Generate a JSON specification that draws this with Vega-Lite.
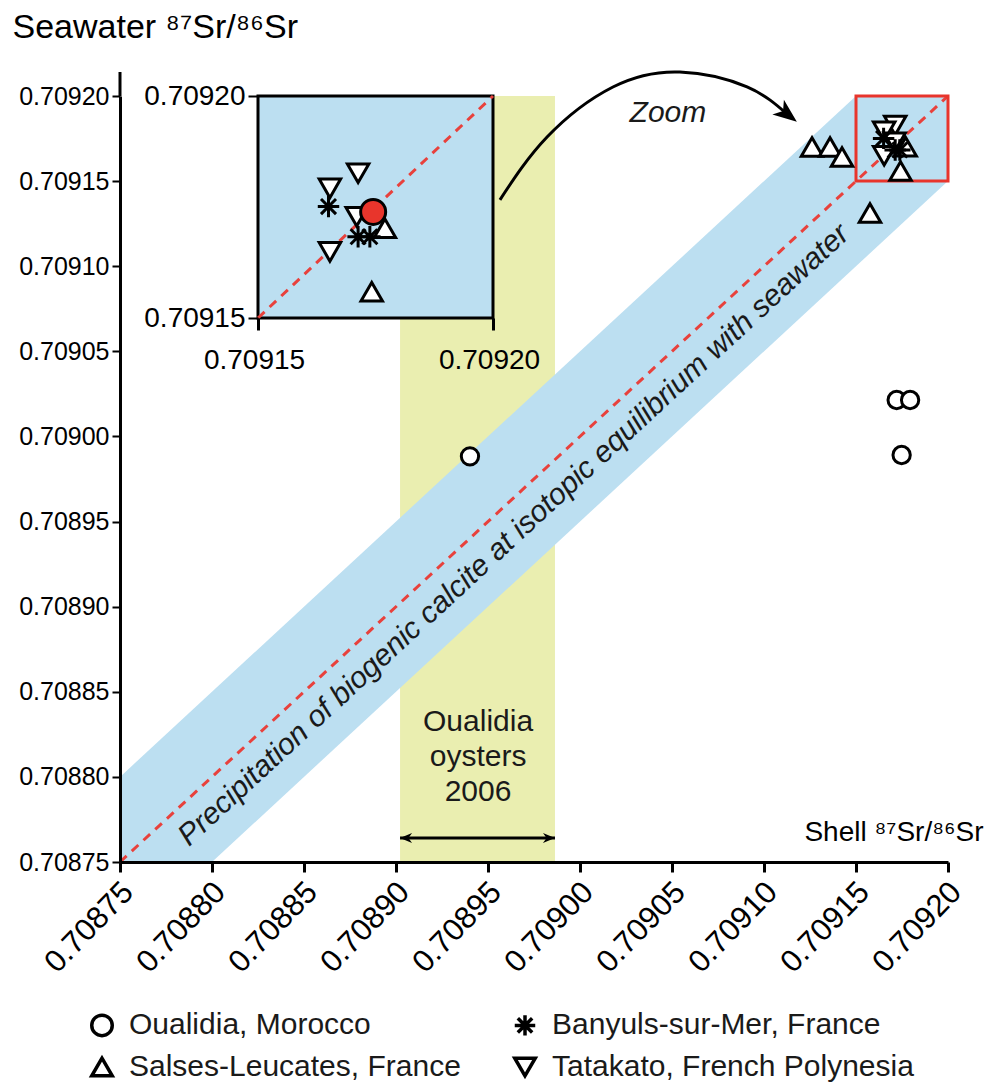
{
  "$schema": "https://vega.github.io/schema/vega-lite/v6.json",
  "width": 828,
  "height": 766,
  "autosize": {"type": "none"},
  "padding": {"left": 120, "top": 96, "right": 38, "bottom": 220},
  "background": "white",
  "config": {
    "view": {"stroke": null},
    "font": "Liberation Sans",
    "axis": {"grid": false, "domainColor": "black", "tickColor": "black", "labelColor": "black", "titleColor": "black", "labelFont": "Liberation Sans", "titleFont": "Liberation Sans", "titleFontWeight": "normal"}
  },
  "datasets": {
    "pts": [
      {"site": "Oualidia, Morocco", "shell": 0.7089402, "sea": 0.7089883},
      {"site": "Oualidia, Morocco", "shell": 0.7091721, "sea": 0.7090214},
      {"site": "Oualidia, Morocco", "shell": 0.7091794, "sea": 0.7090214},
      {"site": "Oualidia, Morocco", "shell": 0.7091748, "sea": 0.7089891},
      {"site": "Salses-Leucates, France", "shell": 0.7091261, "sea": 0.70917},
      {"site": "Salses-Leucates, France", "shell": 0.7091359, "sea": 0.70917},
      {"site": "Salses-Leucates, France", "shell": 0.7091424, "sea": 0.7091642},
      {"site": "Salses-Leucates, France", "shell": 0.7091576, "sea": 0.7091313},
      {"site": "Salses-Leucates, France", "shell": 0.709177, "sea": 0.7091702},
      {"site": "Salses-Leucates, France", "shell": 0.7091742, "sea": 0.7091559},
      {"site": "Tatakato, French Polynesia", "shell": 0.7091713, "sea": 0.7091826},
      {"site": "Tatakato, French Polynesia", "shell": 0.7091653, "sea": 0.7091792},
      {"site": "Tatakato, French Polynesia", "shell": 0.709171, "sea": 0.7091728},
      {"site": "Tatakato, French Polynesia", "shell": 0.7091653, "sea": 0.7091649},
      {"site": "Banyuls-sur-Mer, France", "shell": 0.709165, "sea": 0.7091751},
      {"site": "Banyuls-sur-Mer, France", "shell": 0.7091713, "sea": 0.7091683},
      {"site": "Banyuls-sur-Mer, France", "shell": 0.7091738, "sea": 0.7091683}
    ],
    "inset": [
      {"site": "Tatakato, French Polynesia", "shell": 0.7091713, "sea": 0.7091826},
      {"site": "Tatakato, French Polynesia", "shell": 0.7091653, "sea": 0.7091792},
      {"site": "Tatakato, French Polynesia", "shell": 0.709171, "sea": 0.7091728},
      {"site": "Tatakato, French Polynesia", "shell": 0.7091653, "sea": 0.7091649},
      {"site": "Salses-Leucates, France", "shell": 0.709177, "sea": 0.7091702},
      {"site": "Salses-Leucates, France", "shell": 0.7091742, "sea": 0.7091559},
      {"site": "Banyuls-sur-Mer, France", "shell": 0.709165, "sea": 0.7091751},
      {"site": "Banyuls-sur-Mer, France", "shell": 0.7091713, "sea": 0.7091683},
      {"site": "Banyuls-sur-Mer, France", "shell": 0.7091738, "sea": 0.7091683}
    ],
    "mean": [{"shell": 0.7091745, "sea": 0.7091739}],
    "band": [
      {"shell": 0.70875, "lo": 0.70870, "hi": 0.70880},
      {"shell": 0.70920, "lo": 0.70915, "hi": 0.70925}
    ],
    "oys": [{"x1": 0.7089022, "x2": 0.7089864, "y1": 0.70875, "y2": 0.70920}],
    "diag": [{"v": 0.70875}, {"v": 0.70920}],
    "idiag": [{"v": 0.70915}, {"v": 0.70920}],
    "box": [{"x1": 0.70915, "x2": 0.70920, "y1": 0.70915, "y2": 0.70920}],
    "yext": [{"x": 0.70875, "y1": 0.70920, "y2": 0.7092141}],
    "arc": [
      {"shell": 0.7089565, "sea": 0.7091390},
      {"shell": 0.7089821, "sea": 0.7091759},
      {"shell": 0.7090179, "sea": 0.7092053},
      {"shell": 0.7090543, "sea": 0.7092141},
      {"shell": 0.7090908, "sea": 0.7092053},
      {"shell": 0.7091125, "sea": 0.7091894}
    ],
    "archead": [{"shell": 0.7091125, "sea": 0.7091894}],
    "darrow": [{"x1": 0.7089022, "x2": 0.7089864, "y": 0.7087641}],
    "labels": [
      {"label": "Precipitation of biogenic calcite at isotopic equilibrium with seawater", "shell": 0.7089640, "sea": 0.7089420}
    ],
    "zoomlab": [{"label": "Zoom", "shell": 0.7090478, "sea": 0.7091900}],
    "oyslab": [{"label": "Oualidia\noysters\n2006", "shell": 0.7089446, "sea": 0.7088322}]
  },
  "layer": [
    {
      "layer": [
        {
          "data": {"name": "oys"},
          "mark": {"type": "rect", "fill": "#eaeeb0"},
          "encoding": {
            "x": {"field": "x1", "type": "quantitative", "scale": {"domain": [0.70875, 0.70920], "nice": false, "zero": false},
              "axis": {"zindex": 1, "values": [0.70875, 0.70880, 0.70885, 0.70890, 0.70895, 0.70900, 0.70905, 0.70910, 0.70915, 0.70920], "format": ".5f", "labelAngle": -46, "labelAlign": "right", "labelBaseline": "middle", "labelFontSize": 31, "labelPadding": 15, "labelOffset": 8, "labelFlush": false, "labelOverlap": false, "labelBound": false, "tickSize": 10, "tickWidth": 3, "domainWidth": 3,
                "title": "Shell  ⁸⁷Sr/⁸⁶Sr", "titleX": 863, "titleY": -22, "titleAlign": "right", "titleBaseline": "alphabetic", "titleFontSize": 28, "titleAngle": 0}},
            "x2": {"field": "x2"},
            "y": {"field": "y1", "type": "quantitative", "scale": {"domain": [0.70875, 0.70920], "nice": false, "zero": false},
              "axis": {"zindex": 1, "values": [0.70875, 0.70880, 0.70885, 0.70890, 0.70895, 0.70900, 0.70905, 0.70910, 0.70915, 0.70920], "format": ".5f", "labelFontSize": 25, "labelPadding": 3, "labelFlush": false, "labelOverlap": false, "labelBound": false, "tickSize": 8, "tickWidth": 2, "domainWidth": 3,
                "title": "Seawater  ⁸⁷Sr/⁸⁶Sr", "titleX": -108, "titleY": -59, "titleAlign": "left", "titleBaseline": "alphabetic", "titleFontSize": 34, "titleAngle": 0}},
            "y2": {"field": "y2"}
          }
        },
        {
          "data": {"name": "band"},
          "mark": {"type": "area", "color": "#bcdff1", "clip": true, "opacity": 1},
          "encoding": {
            "x": {"field": "shell", "type": "quantitative"},
            "y": {"field": "lo", "type": "quantitative"},
            "y2": {"field": "hi"}
          }
        },
        {
          "data": {"name": "diag"},
          "mark": {"type": "line", "color": "#e8413c", "strokeWidth": 3, "strokeDash": [9, 7]},
          "encoding": {
            "x": {"field": "v", "type": "quantitative"},
            "y": {"field": "v", "type": "quantitative"}
          }
        },
        {
          "data": {"name": "yext"},
          "mark": {"type": "rule", "color": "black", "strokeWidth": 3, "clip": false},
          "encoding": {
            "x": {"field": "x", "type": "quantitative"},
            "y": {"field": "y1", "type": "quantitative"},
            "y2": {"field": "y2"}
          }
        },
        {
          "data": {"name": "labels"},
          "mark": {"type": "text", "angle": -42.7, "fontStyle": "italic", "fontSize": 30, "font": "Liberation Sans", "align": "center", "baseline": "middle", "color": "#1a1a1a"},
          "encoding": {
            "x": {"field": "shell", "type": "quantitative"},
            "y": {"field": "sea", "type": "quantitative"},
            "text": {"field": "label"}
          }
        },
        {
          "data": {"name": "oyslab"},
          "mark": {"type": "text", "fontSize": 30, "font": "Liberation Sans", "align": "center", "baseline": "middle", "lineBreak": "\n", "lineHeight": 35, "color": "#1a1a1a"},
          "encoding": {
            "x": {"field": "shell", "type": "quantitative"},
            "y": {"field": "sea", "type": "quantitative"},
            "text": {"field": "label"}
          }
        },
        {
          "data": {"name": "zoomlab"},
          "mark": {"type": "text", "fontSize": 30, "fontStyle": "italic", "font": "Liberation Sans", "align": "center", "baseline": "middle", "color": "#1a1a1a"},
          "encoding": {
            "x": {"field": "shell", "type": "quantitative"},
            "y": {"field": "sea", "type": "quantitative"},
            "text": {"field": "label"}
          }
        },
        {
          "data": {"name": "arc"},
          "mark": {"type": "line", "color": "black", "strokeWidth": 3, "interpolate": "natural", "clip": false},
          "encoding": {
            "x": {"field": "shell", "type": "quantitative"},
            "y": {"field": "sea", "type": "quantitative"}
          }
        },
        {
          "data": {"name": "archead"},
          "mark": {"type": "point", "shape": "M0,-1L0.75,0.9L0,0.4L-0.75,0.9Z", "angle": 128, "size": 625, "filled": true, "color": "black", "opacity": 1},
          "encoding": {
            "x": {"field": "shell", "type": "quantitative"},
            "y": {"field": "sea", "type": "quantitative"}
          }
        },
        {
          "data": {"name": "darrow"},
          "mark": {"type": "rule", "color": "black", "strokeWidth": 3},
          "encoding": {
            "x": {"field": "x1", "type": "quantitative"},
            "x2": {"field": "x2"},
            "y": {"field": "y", "type": "quantitative"}
          }
        },
        {
          "data": {"name": "darrow"},
          "mark": {"type": "point", "shape": "M0,0L2,-0.85L1.4,0L2,0.85Z", "size": 144, "filled": true, "color": "black", "opacity": 1},
          "encoding": {
            "x": {"field": "x1", "type": "quantitative"},
            "y": {"field": "y", "type": "quantitative"}
          }
        },
        {
          "data": {"name": "darrow"},
          "mark": {"type": "point", "shape": "M0,0L-2,-0.85L-1.4,0L-2,0.85Z", "size": 144, "filled": true, "color": "black", "opacity": 1},
          "encoding": {
            "x": {"field": "x2", "type": "quantitative"},
            "y": {"field": "y", "type": "quantitative"}
          }
        },
        {
          "data": {"name": "box"},
          "mark": {"type": "rect", "fillOpacity": 0, "stroke": "#e8352c", "strokeWidth": 3},
          "encoding": {
            "x": {"field": "x1", "type": "quantitative"},
            "x2": {"field": "x2"},
            "y": {"field": "y1", "type": "quantitative"},
            "y2": {"field": "y2"}
          }
        },
        {
          "data": {"name": "pts"},
          "transform": [{"filter": "datum.site === 'Oualidia, Morocco'"}],
          "mark": {"type": "point", "filled": true, "fill": "white", "stroke": "black", "strokeWidth": 3, "opacity": 1, "size": 300},
          "encoding": {
            "x": {"field": "shell", "type": "quantitative"},
            "y": {"field": "sea", "type": "quantitative"},
            "shape": {"field": "site", "type": "nominal",
              "scale": {"domain": ["Oualidia, Morocco", "Banyuls-sur-Mer, France", "Salses-Leucates, France", "Tatakato, French Polynesia"], "range": ["circle", "M0,-1L0,1M-1,0L1,0M-0.7,-0.7L0.7,0.7M-0.7,0.7L0.7,-0.7", "triangle-up", "triangle-down"]},
              "legend": {"orient": "none", "direction": "horizontal", "legendX": -33, "legendY": 914, "columns": 2, "columnPadding": 46, "rowPadding": 8, "labelFontSize": 30, "labelFont": "Liberation Sans", "labelColor": "#1a1a1a", "symbolSize": 420, "symbolStrokeWidth": 3.5, "labelOffset": 12, "title": null, "labelLimit": 0}}
          }
        },
        {
          "data": {"name": "pts"},
          "transform": [{"filter": "datum.site !== 'Oualidia, Morocco'"}],
          "mark": {"type": "point", "filled": true, "fill": "white", "stroke": "black", "strokeWidth": 3, "opacity": 1, "size": 460},
          "encoding": {
            "x": {"field": "shell", "type": "quantitative"},
            "y": {"field": "sea", "type": "quantitative"},
            "shape": {"field": "site", "type": "nominal"}
          }
        }
      ]
    },
    {
      "layer": [
        {
          "data": {"name": "box"},
          "mark": {"type": "rect", "fill": "#bcdff1", "stroke": "black", "strokeWidth": 3},
          "encoding": {
            "x": {"field": "x1", "type": "quantitative", "scale": {"domain": [0.709120638, 0.70929681], "nice": false, "zero": false},
              "axis": {"zindex": 2, "orient": "bottom", "offset": -544, "values": [0.70915, 0.70920], "format": ".5f", "domain": false, "labelAngle": 0, "labelAlign": "center", "labelBaseline": "top", "labelFontSize": 28, "labelPadding": 16, "labelOffset": -4, "tickSize": 12, "tickWidth": 3, "title": null, "labelFlush": false, "labelOverlap": false, "labelBound": false}},
            "x2": {"field": "x2"},
            "y": {"field": "y1", "type": "quantitative", "scale": {"domain": [0.70902748, 0.70920], "nice": false, "zero": false},
              "axis": {"zindex": 2, "orient": "left", "offset": -138, "values": [0.70915, 0.70920], "format": ".5f", "domain": false, "labelFontSize": 28, "labelPadding": 3, "tickSize": 10, "tickWidth": 2, "title": null, "labelFlush": false, "labelOverlap": false, "labelBound": false}},
            "y2": {"field": "y2"}
          }
        },
        {
          "data": {"name": "idiag"},
          "mark": {"type": "line", "color": "#e8413c", "strokeWidth": 3, "strokeDash": [9, 7]},
          "encoding": {
            "x": {"field": "v", "type": "quantitative"},
            "y": {"field": "v", "type": "quantitative"}
          }
        },
        {
          "data": {"name": "inset"},
          "mark": {"type": "point", "filled": true, "fill": "white", "stroke": "black", "strokeWidth": 3, "opacity": 1, "size": 460},
          "encoding": {
            "x": {"field": "shell", "type": "quantitative"},
            "y": {"field": "sea", "type": "quantitative"},
            "shape": {"field": "site", "type": "nominal"}
          }
        },
        {
          "data": {"name": "mean"},
          "mark": {"type": "point", "shape": "circle", "filled": true, "fill": "#e8352c", "stroke": "black", "strokeWidth": 3, "size": 625, "opacity": 1},
          "encoding": {
            "x": {"field": "shell", "type": "quantitative"},
            "y": {"field": "sea", "type": "quantitative"}
          }
        }
      ]
    }
  ],
  "resolve": {"scale": {"x": "independent", "y": "independent"}}
}
